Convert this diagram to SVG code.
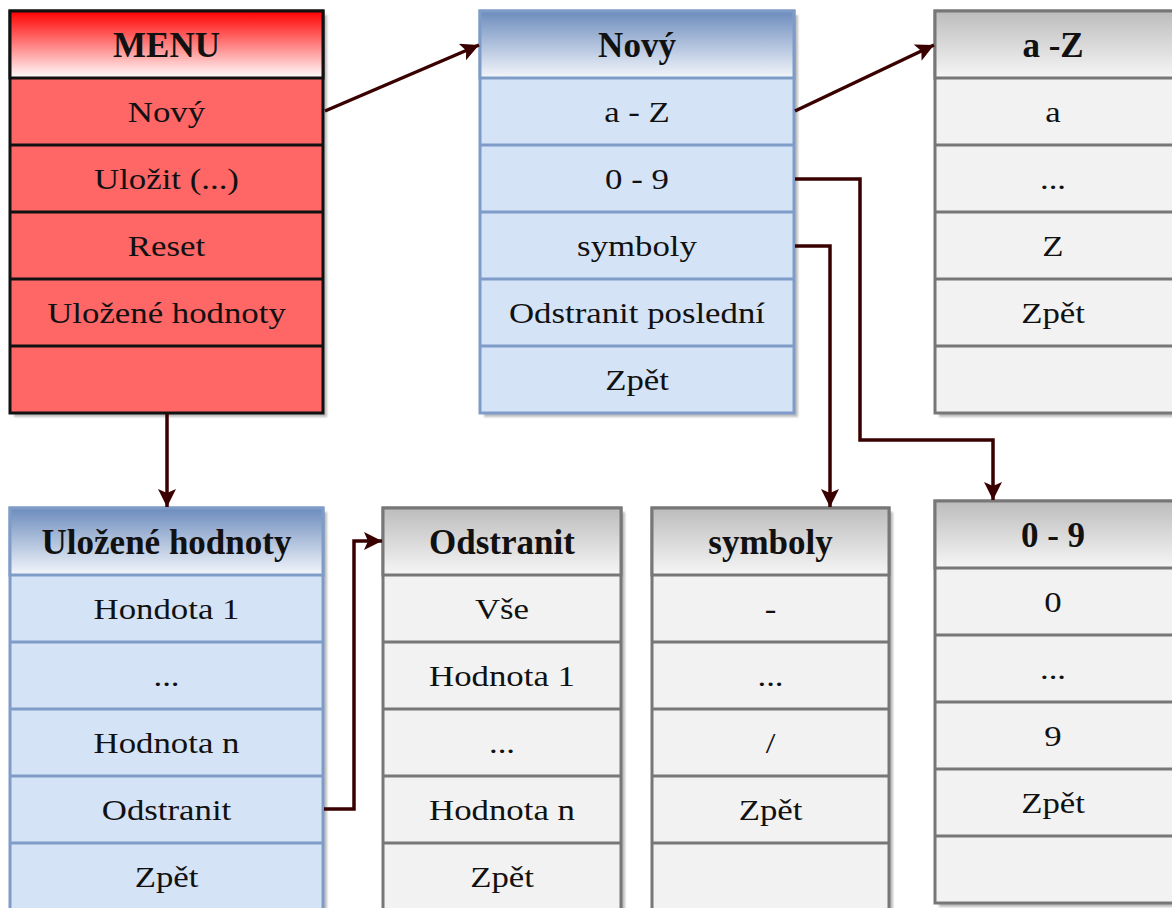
<svg xmlns="http://www.w3.org/2000/svg" width="1172" height="908" viewBox="0 0 1172 908">
  <defs>
    <linearGradient id="gRed" x1="0" y1="0" x2="0" y2="1">
      <stop offset="0" stop-color="#ff0000"/>
      <stop offset="1" stop-color="#ffffff"/>
    </linearGradient>
    <linearGradient id="gBlue" x1="0" y1="0" x2="0" y2="1">
      <stop offset="0" stop-color="#6c8cbd"/>
      <stop offset="1" stop-color="#f3f6fb"/>
    </linearGradient>
    <linearGradient id="gGray" x1="0" y1="0" x2="0" y2="1">
      <stop offset="0" stop-color="#bcbcbc"/>
      <stop offset="1" stop-color="#f6f6f6"/>
    </linearGradient>
    <filter id="soft" x="-5%" y="-5%" width="110%" height="110%">
      <feGaussianBlur stdDeviation="1.2"/>
    </filter>
    <marker id="arrow" markerUnits="userSpaceOnUse" markerWidth="20" markerHeight="20" refX="18" refY="9" orient="auto">
      <path d="M0,0 L18,9 L0,18 L4,9 z" fill="#3a0000"/>
    </marker>
  </defs>
  <style>
    .shadow { fill: #bdbdbd; filter: url(#soft); }
    .red { fill: #ff6666; stroke: #111111; stroke-width: 3; }
    .blue { fill: #d5e3f6; stroke: #7f9cc8; stroke-width: 3; }
    .gray { fill: #f2f2f2; stroke: #777777; stroke-width: 3; }
    .sepR { stroke: #111111; stroke-width: 3; }
    .sepB { stroke: #7f9cc8; stroke-width: 3; }
    .sepG { stroke: #777777; stroke-width: 3; }
    .t { font-family: "Liberation Serif", "Times New Roman", serif; font-size: 29px; text-anchor: middle; fill: #111111; }
    .h { font-family: "Liberation Serif", "Times New Roman", serif; font-size: 35px; font-weight: bold; text-anchor: middle; fill: #111111; }
    .link { fill: none; stroke: #3a0000; stroke-width: 3.5; marker-end: url(#arrow); }
  </style>

  <rect width="1172" height="908" fill="#ffffff"/>

  <!-- Main menu -->
  <g id="menu">
    <rect class="shadow" x="14" y="15" width="313" height="402"/>
    <rect class="red" x="10" y="11" width="313" height="402"/>
    <rect x="10" y="11" width="313" height="67" fill="url(#gRed)" stroke="#111111" stroke-width="3"/>
    <line class="sepR" x1="10" y1="145" x2="323" y2="145"/>
    <line class="sepR" x1="10" y1="212" x2="323" y2="212"/>
    <line class="sepR" x1="10" y1="279" x2="323" y2="279"/>
    <line class="sepR" x1="10" y1="346" x2="323" y2="346"/>
    <text class="h" x="166.5" y="57">MENU</text>
    <text class="t" transform="translate(166.5,121.5) scale(1.2,1)">Nový</text>
    <text class="t" transform="translate(166.5,188.5) scale(1.2,1)">Uložit (...)</text>
    <text class="t" transform="translate(166.5,255.5) scale(1.2,1)">Reset</text>
    <text class="t" transform="translate(166.5,322.5) scale(1.2,1)">Uložené hodnoty</text>
  </g>

  <!-- New entry submenu -->
  <g id="novy">
    <rect class="shadow" x="484" y="15" width="314" height="402"/>
    <rect class="blue" x="480" y="11" width="314" height="402"/>
    <rect x="480" y="11" width="314" height="67" fill="url(#gBlue)" stroke="#7f9cc8" stroke-width="3"/>
    <line class="sepB" x1="480" y1="145" x2="794" y2="145"/>
    <line class="sepB" x1="480" y1="212" x2="794" y2="212"/>
    <line class="sepB" x1="480" y1="279" x2="794" y2="279"/>
    <line class="sepB" x1="480" y1="346" x2="794" y2="346"/>
    <text class="h" x="637" y="57">Nový</text>
    <text class="t" transform="translate(637,121.5) scale(1.2,1)">a - Z</text>
    <text class="t" transform="translate(637,188.5) scale(1.2,1)">0 - 9</text>
    <text class="t" transform="translate(637,255.5) scale(1.2,1)">symboly</text>
    <text class="t" transform="translate(637,322.5) scale(1.2,1)">Odstranit poslední</text>
    <text class="t" transform="translate(637,389.5) scale(1.2,1)">Zpět</text>
  </g>

  <!-- Letters -->
  <g id="letters">
    <rect class="shadow" x="939" y="15" width="240" height="402"/>
    <rect class="gray" x="935" y="11" width="240" height="402"/>
    <rect x="935" y="11" width="240" height="67" fill="url(#gGray)" stroke="#777777" stroke-width="3"/>
    <line class="sepG" x1="935" y1="145" x2="1175" y2="145"/>
    <line class="sepG" x1="935" y1="212" x2="1175" y2="212"/>
    <line class="sepG" x1="935" y1="279" x2="1175" y2="279"/>
    <line class="sepG" x1="935" y1="346" x2="1175" y2="346"/>
    <text class="h" x="1053" y="57">a -Z</text>
    <text class="t" transform="translate(1053,121.5) scale(1.2,1)">a</text>
    <text class="t" transform="translate(1053,188.5) scale(1.2,1)">...</text>
    <text class="t" transform="translate(1053,255.5) scale(1.2,1)">Z</text>
    <text class="t" transform="translate(1053,322.5) scale(1.2,1)">Zpět</text>
  </g>

  <!-- Saved values -->
  <g id="ulozene">
    <rect class="shadow" x="14" y="512" width="313" height="402"/>
    <rect class="blue" x="10" y="508" width="313" height="402"/>
    <rect x="10" y="508" width="313" height="67" fill="url(#gBlue)" stroke="#7f9cc8" stroke-width="3"/>
    <line class="sepB" x1="10" y1="642" x2="323" y2="642"/>
    <line class="sepB" x1="10" y1="709" x2="323" y2="709"/>
    <line class="sepB" x1="10" y1="776" x2="323" y2="776"/>
    <line class="sepB" x1="10" y1="843" x2="323" y2="843"/>
    <text class="h" x="166.5" y="554">Uložené hodnoty</text>
    <text class="t" transform="translate(166.5,618.5) scale(1.2,1)">Hondota 1</text>
    <text class="t" transform="translate(166.5,685.5) scale(1.2,1)">...</text>
    <text class="t" transform="translate(166.5,752.5) scale(1.2,1)">Hodnota n</text>
    <text class="t" transform="translate(166.5,819.5) scale(1.2,1)">Odstranit</text>
    <text class="t" transform="translate(166.5,886.5) scale(1.2,1)">Zpět</text>
  </g>

  <!-- Delete submenu -->
  <g id="odstranit">
    <rect class="shadow" x="387" y="512" width="238" height="402"/>
    <rect class="gray" x="383" y="508" width="238" height="402"/>
    <rect x="383" y="508" width="238" height="67" fill="url(#gGray)" stroke="#777777" stroke-width="3"/>
    <line class="sepG" x1="383" y1="642" x2="621" y2="642"/>
    <line class="sepG" x1="383" y1="709" x2="621" y2="709"/>
    <line class="sepG" x1="383" y1="776" x2="621" y2="776"/>
    <line class="sepG" x1="383" y1="843" x2="621" y2="843"/>
    <text class="h" x="502" y="554">Odstranit</text>
    <text class="t" transform="translate(502,618.5) scale(1.2,1)">Vše</text>
    <text class="t" transform="translate(502,685.5) scale(1.2,1)">Hodnota 1</text>
    <text class="t" transform="translate(502,752.5) scale(1.2,1)">...</text>
    <text class="t" transform="translate(502,819.5) scale(1.2,1)">Hodnota n</text>
    <text class="t" transform="translate(502,886.5) scale(1.2,1)">Zpět</text>
  </g>

  <!-- Symbols -->
  <g id="symboly">
    <rect class="shadow" x="656" y="512" width="237" height="402"/>
    <rect class="gray" x="652" y="508" width="237" height="402"/>
    <rect x="652" y="508" width="237" height="67" fill="url(#gGray)" stroke="#777777" stroke-width="3"/>
    <line class="sepG" x1="652" y1="642" x2="889" y2="642"/>
    <line class="sepG" x1="652" y1="709" x2="889" y2="709"/>
    <line class="sepG" x1="652" y1="776" x2="889" y2="776"/>
    <line class="sepG" x1="652" y1="843" x2="889" y2="843"/>
    <text class="h" x="770.5" y="554">symboly</text>
    <text class="t" transform="translate(770.5,618.5) scale(1.2,1)">-</text>
    <text class="t" transform="translate(770.5,685.5) scale(1.2,1)">...</text>
    <text class="t" transform="translate(770.5,752.5) scale(1.2,1)">/</text>
    <text class="t" transform="translate(770.5,819.5) scale(1.2,1)">Zpět</text>
  </g>

  <!-- Digits -->
  <g id="digits">
    <rect class="shadow" x="939" y="505" width="240" height="402"/>
    <rect class="gray" x="935" y="501" width="240" height="402"/>
    <rect x="935" y="501" width="240" height="67" fill="url(#gGray)" stroke="#777777" stroke-width="3"/>
    <line class="sepG" x1="935" y1="635" x2="1175" y2="635"/>
    <line class="sepG" x1="935" y1="702" x2="1175" y2="702"/>
    <line class="sepG" x1="935" y1="769" x2="1175" y2="769"/>
    <line class="sepG" x1="935" y1="836" x2="1175" y2="836"/>
    <text class="h" x="1053" y="547">0 - 9</text>
    <text class="t" transform="translate(1053,611.5) scale(1.2,1)">0</text>
    <text class="t" transform="translate(1053,678.5) scale(1.2,1)">...</text>
    <text class="t" transform="translate(1053,745.5) scale(1.2,1)">9</text>
    <text class="t" transform="translate(1053,812.5) scale(1.2,1)">Zpět</text>
  </g>

  <!-- Connectors -->
  <g id="connectors">
    <path class="link" d="M325,111 L479,45"/>
    <path class="link" d="M795,111 L934,45"/>
    <path class="link" d="M795,179 H860 V440 H993 V500"/>
    <path class="link" d="M795,246 H830 V507"/>
    <path class="link" d="M167,414 V507"/>
    <path class="link" d="M324,809 H354 V541 H382"/>
  </g>
</svg>
